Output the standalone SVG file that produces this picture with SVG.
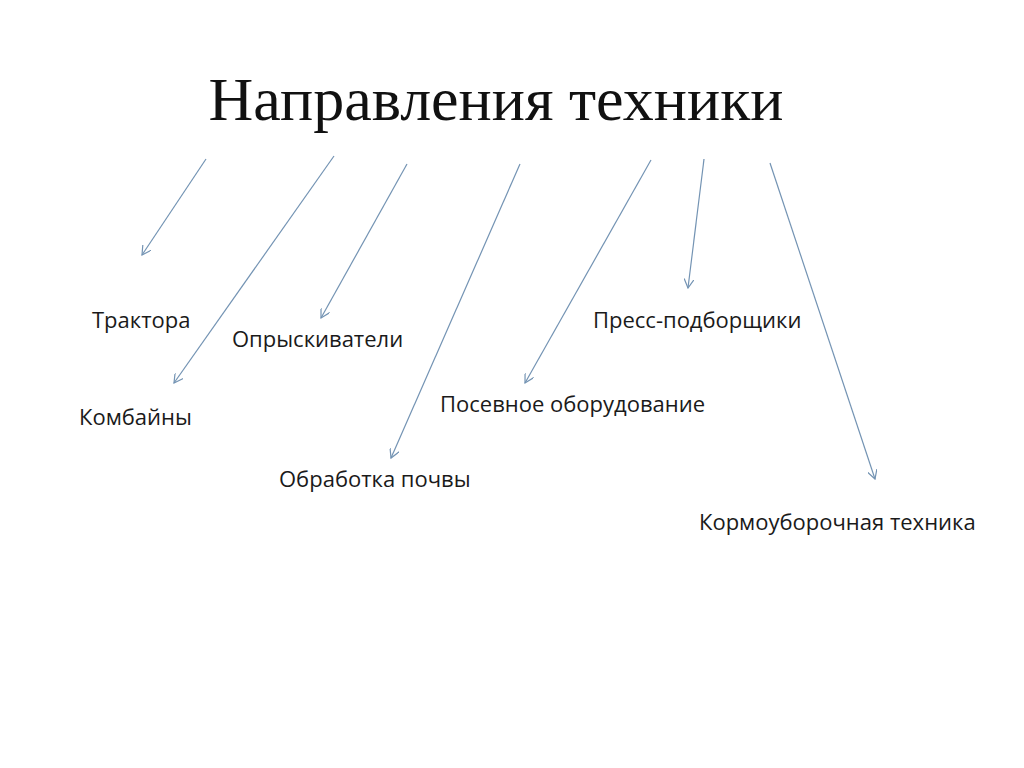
<svg xmlns="http://www.w3.org/2000/svg" width="1024" height="768" viewBox="0 0 1024 768">
<style>
.t{font-family:"Open Sans","Liberation Sans",sans-serif;font-size:22px;fill:#1a1a1a}
.c line{stroke:#7393b3;stroke-width:1.2;marker-end:url(#a)}
</style>
<defs><marker id="a" viewBox="0 0 10 10" refX="9" refY="5" markerWidth="10" markerHeight="10" markerUnits="userSpaceOnUse" orient="auto"><path d="M0,0 L9,5 L0,10" fill="none" stroke="#7393b3" stroke-width="1.2"/></marker></defs>
<rect width="1024" height="768" fill="#fff"/>
<text x="496" y="120" text-anchor="middle" font-family="Liberation Serif,serif" font-size="62" fill="#111">Направления техники</text>
<g class="c">
<line x1="206" y1="159" x2="142" y2="255"/>
<line x1="334" y1="156" x2="174" y2="383"/>
<line x1="407" y1="164" x2="321" y2="318"/>
<line x1="520" y1="164" x2="391" y2="458"/>
<line x1="651" y1="160" x2="525" y2="383"/>
<line x1="704" y1="159" x2="688" y2="288"/>
<line x1="770" y1="163" x2="875" y2="479"/>
</g>
<g id="n1"><text class="t" x="92" y="328">Трактора</text></g>
<g id="n2"><text class="t" x="232" y="347">Опрыскиватели</text></g>
<g id="n3"><text class="t" x="593" y="328">Пресс-подборщики</text></g>
<g id="n4"><text class="t" x="79" y="425">Комбайны</text></g>
<g id="n5"><text class="t" x="440" y="412">Посевное оборудование</text></g>
<g id="n6"><text class="t" x="279" y="487">Обработка почвы</text></g>
<g id="n7"><text class="t" x="699" y="530">Кормоуборочная техника</text></g>
</svg>
